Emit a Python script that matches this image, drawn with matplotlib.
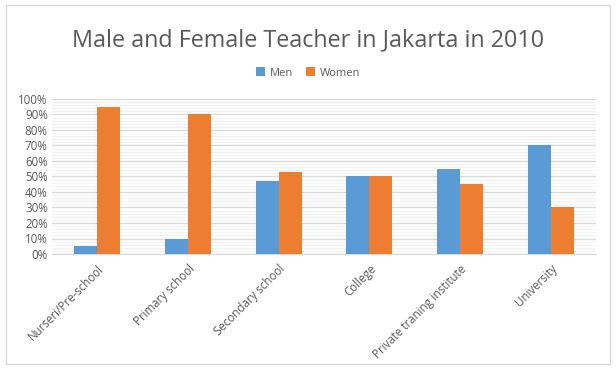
import numpy as np
import matplotlib.pyplot as plt
from matplotlib.patches import Rectangle
from matplotlib.ticker import MultipleLocator, PercentFormatter

categories = ["Nurseri/Pre-school", "Primary school", "Secondary school",
              "College", "Private traning institute", "University"]
men = [5, 10, 47, 50, 55, 70]
women = [95, 90, 53, 50, 45, 30]

blue = "#5B9BD5"
orange = "#ED7D31"
grey_text = "#595959"

plt.rcParams['font.family'] = ['Open Sans', 'DejaVu Sans']

fig = plt.figure(figsize=(6.16, 3.76), dpi=100)
fig.patches.append(Rectangle((6 / 616, 1 - 364 / 376), 604 / 616, 359 / 376,
                             transform=fig.transFigure, fill=False,
                             edgecolor="#D9D9D9", linewidth=1))

ax = fig.add_axes([52 / 616, 1 - 254 / 376, 544 / 616, 155 / 376])
x = np.arange(len(categories))
w = 0.255
ax.bar(x - w / 2, men, w, color=blue, label="Men", zorder=3)
ax.bar(x + w / 2, women, w, color=orange, label="Women", zorder=3)

ax.set_xlim(-0.5, len(categories) - 0.5)
ax.set_ylim(0, 100)
ax.yaxis.set_major_locator(MultipleLocator(10))
ax.yaxis.set_minor_locator(MultipleLocator(2))
ax.yaxis.set_major_formatter(PercentFormatter(decimals=0))
ax.grid(axis='y', which='major', color="#D9D9D9", linewidth=1, zorder=0)
ax.grid(axis='y', which='minor', color="#F2F2F2", linewidth=1, zorder=0)
for s in ["top", "right", "left"]:
    ax.spines[s].set_visible(False)
ax.spines["bottom"].set_color("#D9D9D9")
ax.tick_params(axis='both', which='both', length=0, colors=grey_text, labelsize=8.3)
ax.tick_params(axis='y', pad=3)
ax.tick_params(axis='x', pad=6)
ax.set_xticks(x)
ax.set_xticklabels(categories, rotation=45, ha='right', rotation_mode='anchor')

fig.text(0.5, 1 - 40 / 376, "Male and Female Teacher in Jakarta in 2010",
         ha='center', va='center', fontsize=16.8, color=grey_text)
fig.legend(loc='center', bbox_to_anchor=(0.5, 1 - 73 / 376), ncol=2,
           frameon=False, fontsize=8, handlelength=0.8, handleheight=0.8,
           columnspacing=1.2, handletextpad=0.4, labelcolor=grey_text)

fig.savefig("out.png", dpi=100)
